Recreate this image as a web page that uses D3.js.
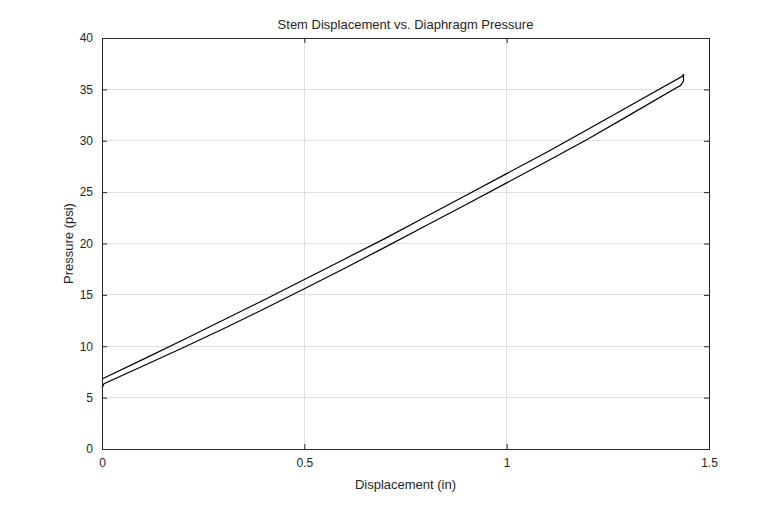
<!DOCTYPE html>
<html>
<head>
<meta charset="utf-8">
<script src="https://cdn.jsdelivr.net/npm/d3@7"></script>
<style>
  body { margin: 0; background: #fff; }
  text { font-family: "Liberation Sans", Arial, sans-serif; fill: #262626; }
</style>
</head>
<body>
<div id="chart"></div>
<script>
const width = 784;
const height = 506;
const margin = { top: 38, right: 75, bottom: 57, left: 102 };

const xTicks = [0, 0.5, 1, 1.5];
const yTicks = [0, 5, 10, 15, 20, 25, 30, 35, 40];

// lower branch, left to right
const lowerBranch = [
  [0, 5.95], [0.005, 6.35], [0.1, 8.05], [0.2, 9.85], [0.3, 11.7],
  [0.4, 13.62], [0.5, 15.6], [0.6, 17.6], [0.7, 19.65], [0.8, 21.72],
  [0.9, 23.8], [1.0, 25.9], [1.1, 28.0], [1.2, 30.15], [1.3, 32.42],
  [1.43, 35.4]
];
// closing segment at the turning point
const turnPoints = [[1.437, 35.8], [1.437, 36.5]];
// upper branch, right to left
const upperBranch = [
  [1.435, 36.3], [1.3, 33.3], [1.2, 31.1], [1.1, 28.9], [1.0, 26.8],
  [0.9, 24.7], [0.8, 22.6], [0.7, 20.5], [0.6, 18.5], [0.5, 16.5],
  [0.4, 14.5], [0.3, 12.55], [0.2, 10.6], [0.1, 8.7], [0, 6.82]
];

const svg = d3.select("#chart").append("svg")
  .attr("width", width)
  .attr("height", height);

const x = d3.scaleLinear().domain([0, 1.5]).range([margin.left, width - margin.right]);
const y = d3.scaleLinear().domain([0, 40]).range([height - margin.bottom, margin.top]);

// grid
svg.append("g").selectAll("line").data(xTicks.slice(1, -1)).enter().append("line")
  .attr("x1", d => x(d)).attr("x2", d => x(d))
  .attr("y1", y(0)).attr("y2", y(40))
  .attr("stroke", "#dfdfdf").attr("shape-rendering", "crispEdges");
svg.append("g").selectAll("line").data(yTicks.slice(1, -1)).enter().append("line")
  .attr("x1", x(0)).attr("x2", x(1.5))
  .attr("y1", d => y(d)).attr("y2", d => y(d))
  .attr("stroke", "#dfdfdf").attr("shape-rendering", "crispEdges");

// data loop
const line = d3.line().x(d => x(d[0])).y(d => y(d[1]));
svg.append("path")
  .datum(lowerBranch.concat(turnPoints, upperBranch))
  .attr("d", line)
  .attr("fill", "none")
  .attr("stroke", "#000")
  .attr("stroke-width", 1.2);

// axes with inward ticks (matlab style)
function styleAxis(g) {
  g.select(".domain").remove();
  g.selectAll(".tick line").attr("stroke", "#262626");
  g.selectAll(".tick text").style("font-size", "12px").attr("fill", "#262626");
}
svg.append("g")
  .attr("transform", `translate(0,${y(0)})`)
  .call(d3.axisBottom(x).tickValues(xTicks).tickFormat(d3.format("")).tickSizeInner(-5).tickPadding(9))
  .call(styleAxis);
svg.append("g")
  .attr("transform", `translate(0,${y(40)})`)
  .call(d3.axisTop(x).tickValues(xTicks).tickFormat("").tickSizeInner(-5))
  .call(styleAxis);
svg.append("g")
  .attr("transform", `translate(${x(0)},0)`)
  .call(d3.axisLeft(y).tickValues(yTicks).tickSizeInner(-5).tickPadding(9))
  .call(styleAxis);
svg.append("g")
  .attr("transform", `translate(${x(1.5)},0)`)
  .call(d3.axisRight(y).tickValues(yTicks).tickFormat("").tickSizeInner(-5))
  .call(styleAxis);

// box
svg.append("rect")
  .attr("x", x(0)).attr("y", y(40))
  .attr("width", x(1.5) - x(0)).attr("height", y(0) - y(40))
  .attr("fill", "none").attr("stroke", "#262626").attr("shape-rendering", "crispEdges");

// labels
svg.append("text")
  .attr("x", (x(0) + x(1.5)) / 2).attr("y", 29)
  .attr("text-anchor", "middle").style("font-size", "13px")
  .attr("fill", "#000")
  .text("Stem Displacement vs. Diaphragm Pressure");
svg.append("text")
  .attr("x", (x(0) + x(1.5)) / 2).attr("y", 489)
  .attr("text-anchor", "middle").style("font-size", "13px")
  .text("Displacement (in)");
svg.append("text")
  .attr("transform", `translate(73,${(y(0) + y(40)) / 2}) rotate(-90)`)
  .attr("text-anchor", "middle").style("font-size", "13px")
  .text("Pressure (psi)");
</script>
</body>
</html>
